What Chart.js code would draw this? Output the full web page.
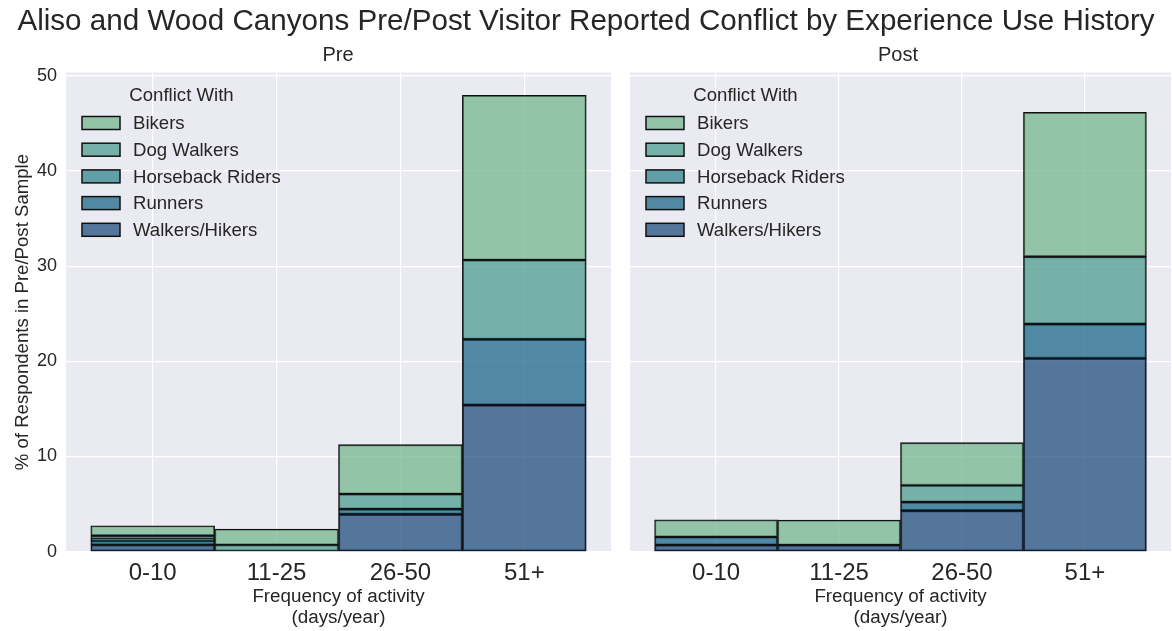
<!DOCTYPE html>
<html><head><meta charset="utf-8">
<script src="https://cdn.jsdelivr.net/npm/chart.js@4.4.0/dist/chart.umd.min.js"></script>
<style>
html,body{margin:0;padding:0;background:#fff;width:1172px;height:631px;overflow:hidden;font-family:"Liberation Sans",Arial,sans-serif;color:#262626}
.wrap{position:absolute;top:0;height:631px}
#w1{left:0;width:615px}
#w2{left:615px;width:557px}
#title{position:absolute;left:0;width:1172px;top:3px;text-align:center;font-size:29.6px;line-height:34px;z-index:2}
.sub{position:absolute;top:42px;font-size:20px;line-height:24px;text-align:center;width:200px;z-index:2}
</style></head><body>
<div class="wrap" id="w1"><canvas id="c1"></canvas></div>
<div class="wrap" id="w2"><canvas id="c2"></canvas></div>
<div id="title">Aliso and Wood Canyons Pre/Post Visitor Reported Conflict by Experience Use History</div>
<div class="sub" style="left:238px">Pre</div>
<div class="sub" style="left:798px">Post</div>
<script>
const categories = ['0-10', '11-25', '26-50', '51+'];
const groups = ['Walkers/Hikers', 'Runners', 'Horseback Riders', 'Dog Walkers', 'Bikers'];
const yTicks = [0, 10, 20, 30, 40, 50];

// Pre sample (% of respondents), stacked bottom -> top
const preWalkers   = [0.72, 0.00, 3.93, 15.41];
const preRunners   = [0.45, 0.00, 0.55, 6.90];
const preHorseback = [0.15, 0.00, 0.00, 0.00];
const preDog       = [0.36, 0.72, 1.58, 8.33];
const preBikers    = [1.05, 1.65, 5.18, 17.30];

// Post sample
const postWalkers   = [0.70, 0.70, 4.31, 20.31];
const postRunners   = [0.85, 0.00, 0.91, 3.61];
const postHorseback = [0.00, 0.00, 0.00, 0.00];
const postDog       = [0.00, 0.00, 1.75, 7.07];
const postBikers    = [1.80, 2.63, 4.48, 15.16];

const colors = ['rgba(35,79,126,0.75)', 'rgba(29,104,139,0.75)', 'rgba(50,133,143,0.75)', 'rgba(78,158,143,0.75)', 'rgba(118,183,143,0.75)'];

const FONT = '"Liberation Sans", Arial, sans-serif';
const TXT = '#262626';
const BG = '#eaeaf2';

function mkDatasets(series) {
  return series.map((arr, k) => ({
    label: groups[k],
    data: categories.map((c, i) => ({x: i + 0.5, y: arr[i]})),
    backgroundColor: colors[k],
    borderColor: '#111111',
    borderWidth: 1.3,
    borderSkipped: false,
    barPercentage: 1,
    categoryPercentage: 1
  }));
}

const bgPlugin = {
  id: 'bgPlugin',
  beforeDraw(chart) {
    const a = chart.chartArea, ctx = chart.ctx;
    ctx.save(); ctx.fillStyle = BG;
    ctx.fillRect(a.left, a.top, a.right - a.left, a.bottom - a.top);
    ctx.restore();
  }
};

const legendPlugin = {
  id: 'customLegend',
  afterDatasetsDraw(chart) {
    const a = chart.chartArea, ctx = chart.ctx;
    ctx.save();
    ctx.fillStyle = TXT;
    ctx.font = '18.6px ' + FONT;
    ctx.textAlign = 'center'; ctx.textBaseline = 'middle';
    ctx.fillText('Conflict With', a.left + 115.5, a.top + 23.5);
    ctx.textAlign = 'left';
    const ds = chart.data.datasets.slice().reverse();
    ds.forEach((d, j) => {
      const cy = a.top + 50.5 + j * 26.7;
      ctx.fillStyle = BG;
      ctx.fillRect(a.left + 16, cy - 6.5, 38, 13);
      ctx.fillStyle = d.backgroundColor;
      ctx.fillRect(a.left + 16, cy - 6.5, 38, 13);
      ctx.strokeStyle = '#111'; ctx.lineWidth = 1.5;
      ctx.strokeRect(a.left + 16, cy - 6.5, 38, 13);
      ctx.fillStyle = TXT;
      ctx.fillText(d.label, a.left + 67, cy + 1);
    });
    ctx.restore();
  }
};

function makeChart(id, series, showY, padRight, yWidth) {
  return new Chart(document.getElementById(id), {
    type: 'bar',
    data: {datasets: mkDatasets(series)},
    plugins: [bgPlugin, legendPlugin],
    options: {
      responsive: true,
      maintainAspectRatio: false,
      animation: false,
      events: [],
      layout: {padding: {left: 0, right: padRight, top: 72.5, bottom: 0}},
      plugins: {legend: {display: false}, tooltip: {enabled: false}, title: {display: false}},
      scales: {
        x: {
          type: 'linear',
          stacked: true,
          offset: false,
          min: -0.2, max: 4.2,
          afterBuildTicks: s => { s.ticks = categories.map((c, i) => ({value: i + 0.5})); },
          afterFit: s => { s.height = 79.3; },
          grid: {color: '#ffffff', lineWidth: 1.2, drawTicks: false, offset: false},
          border: {display: false},
          ticks: {
            padding: 7, color: TXT, font: {family: FONT, size: 24}, maxRotation: 0, autoSkip: false,
            callback: (v, i) => categories[i]
          },
          title: {
            display: true, text: ['Frequency of activity', '(days/year)'], color: TXT,
            font: {family: FONT, size: 18.8, lineHeight: 1.15}, padding: {top: 0, bottom: 2}
          }
        },
        y: {
          stacked: true,
          min: 0, max: 50.34,
          afterBuildTicks: s => { s.ticks = yTicks.map(v => ({value: v})); },
          afterFit: s => { s.width = yWidth; },
          grid: {color: '#ffffff', lineWidth: 1.2, drawTicks: false},
          border: {display: false},
          ticks: {display: showY, padding: 9, color: TXT, font: {family: FONT, size: 18}},
          title: {
            display: showY, text: '% of Respondents in Pre/Post Sample', color: TXT,
            font: {family: FONT, size: 18.6, lineHeight: 1.2}, padding: {top: 12, bottom: 0}
          }
        }
      }
    }
  });
}

makeChart('c1', [preWalkers, preRunners, preHorseback, preDog, preBikers], true, 4, 66);
makeChart('c2', [postWalkers, postRunners, postHorseback, postDog, postBikers], false, 1, 15);
</script>
</body></html>
